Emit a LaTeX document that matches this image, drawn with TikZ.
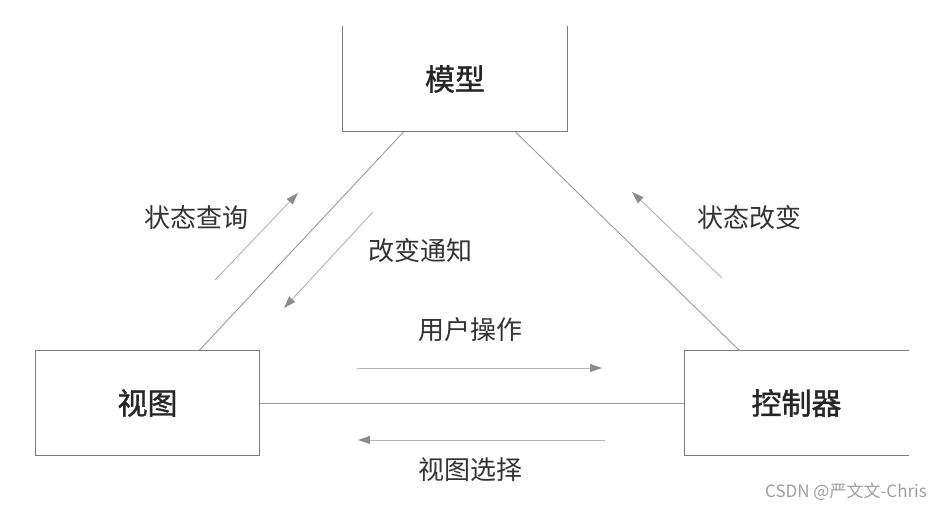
\documentclass[tikz,border=0pt]{standalone}
\usepackage{fontspec}
\setmainfont{Noto Sans CJK SC}
\newfontfamily\cjkmid{Noto Sans CJK SC}[FakeBold=1.2]
\usetikzlibrary{arrows.meta, positioning, calc}
\definecolor{mBox}{HTML}{7A7A7A}
\definecolor{mLine}{HTML}{9A9A9A}
\definecolor{mArrow}{HTML}{B4B4B4}
\definecolor{mTip}{HTML}{8C8C8C}
\definecolor{mMark}{HTML}{9E9E9E}

\tikzset{
  unit/.style={minimum width=224pt, minimum height=105pt, inner sep=0pt},
  boxside/.style={draw=mBox, line width=1.3pt},
  link/.style={draw=mLine, line width=0.9pt},
  flow/.style={draw=mArrow, line width=0.9pt,
    -{Triangle[length=12pt, width=8pt, fill=mTip, color=mTip]}},
  tag/.style={font=\fontsize{26}{26}\selectfont, text=black!80},
  title/.style={font=\cjkmid\fontsize{30}{30}\selectfont, text=black!85}
}

\begin{document}
\begin{tikzpicture}[x=1pt, y=-1pt]
    \useasboundingbox (0,0) rectangle (932,506);
    % the three parts
    \node[unit, title] (model) at (455,79) {模型};
    \node[unit, title] (view) at (147.5,403) {视图};
    \node[unit, title] (ctrl) at (796.5,403) {控制器};
    \draw[boxside] (model.north west) -- (model.south west) -- (model.south east) -- (model.north east);
    \draw[boxside] (view.north west) rectangle (view.south east);
    \draw[boxside] (ctrl.north east) -- (ctrl.north west) -- (ctrl.south west) -- (ctrl.south east);

    % links between the parts
    \draw[link] ([xshift=61pt]model.south west) -- ([xshift=164pt]view.north west);
    \draw[link] ([xshift=-52pt]model.south east) -- ([xshift=55pt]ctrl.north west);
    \draw[link] (view.east) -- (ctrl.west);

    % messages
    \coordinate (qs) at (215,280); \coordinate (qe) at (298,193);
    \coordinate (ns) at (373,212); \coordinate (ne) at (284,308);
    \coordinate (cs) at (722,278); \coordinate (ce) at (632,192);
    \coordinate (us) at (357,368); \coordinate (ue) at (602,368);
    \coordinate (ss) at (605,440); \coordinate (se) at (358,440);
    \draw[flow] (qs) -- (qe);
    \draw[flow] (ns) -- (ne);
    \draw[flow] (cs) -- (ce);
    \draw[flow] (us) -- (ue);
    \draw[flow] (ss) -- (se);

    \node[tag] (query) at (196,218) {状态查询};
    \node[tag] (notify) at (420,251) {改变通知};
    \node[tag] (change) at (749,218) {状态改变};
    \node[tag] (action) at (470,330) {用户操作};
    \node[tag] (select) at (470,470) {视图选择};

    \node[font=\fontsize{17}{17}\selectfont, text=mMark] (mark) at (846,492) {CSDN @严文文-Chris};
  \end{tikzpicture}
\end{document}
